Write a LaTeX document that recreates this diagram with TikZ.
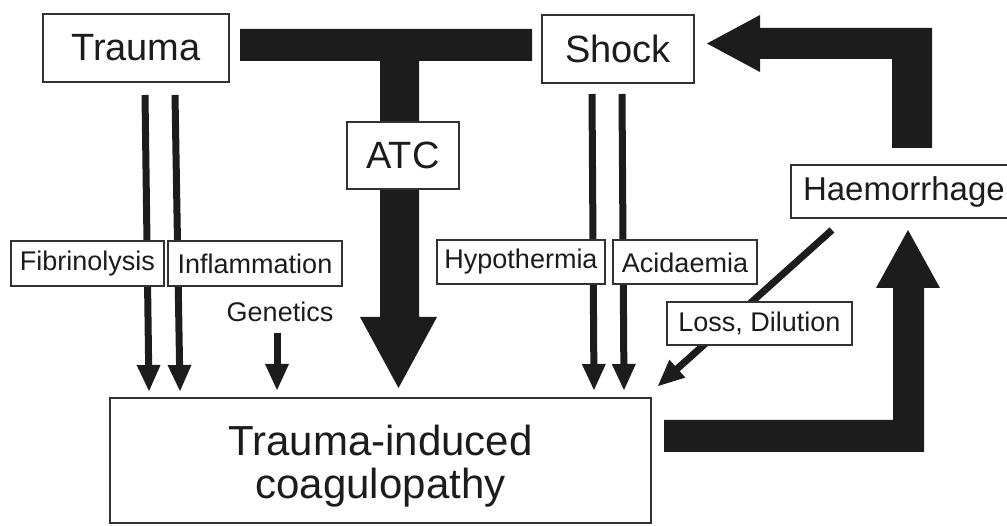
\documentclass[tikz,border=0pt]{standalone}
\usepackage{fontspec}
\setmainfont{Liberation Sans}
\usetikzlibrary{calc}
\definecolor{ink}{RGB}{28,28,28}
\definecolor{boxline}{RGB}{50,50,50}
\pgfdeclarelayer{bg}
\pgfsetlayers{bg,main}
\newcommand{\thinarrow}[2]{%
  \draw[ink, line width=7pt] (#1) -- ($(#2)!24pt!(#1)$);
  \fill[ink] (#2) -- ($(#2)!26pt!(#1)!12pt!90:(#1)$) -- ($(#2)!26pt!(#1)!12pt!-90:(#1)$) -- cycle;
}
\begin{document}
\begin{tikzpicture}[x=1pt,y=-1pt,
  box/.style={draw=boxline, line width=2pt, fill=white, inner sep=0pt, text=ink},
  big/.style={font=\fontsize{38}{40}\selectfont},
  small/.style={font=\fontsize{27}{29}\selectfont},
  block/.style={fill=ink}]
\useasboundingbox (0,0) rectangle (1007,526);

% boxes
\node[box,big,minimum width=186pt,minimum height=68pt] (trauma) at (136,48) {Trauma};
\node[box,big,minimum width=152pt,minimum height=68pt] (shock) at (618,49) {Shock};
\node[box,big,minimum width=112pt,minimum height=67pt] (atc) at (403,155.5) {ATC};
\node[box,small,minimum width=153pt,minimum height=45pt] (fib) at (87.5,263.5) {Fibrinolysis};
\node[box,small,minimum width=174pt,minimum height=45pt] (infl) at (255,263.5) {Inflammation};
\node[box,small,minimum width=168pt,minimum height=44pt] (hypo) at (521,262) {Hypothermia};
\node[box,small,minimum width=144pt,minimum height=44pt] (acid) at (685,262.5) {Acidaemia};
\node[box,small,minimum width=185pt,minimum height=43pt] (loss) at (759.5,323.5) {Loss, Dilution};
\node[box,font=\fontsize{33}{35}\selectfont,minimum height=53pt,anchor=west,inner xsep=12pt] (haem) at (790,191.5) {Haemorrhage};
\node[small,text=ink,inner sep=0pt] (gen) at (280,312) {Genetics};
\node[box,minimum width=541pt,minimum height=125pt,align=center,font=\fontsize{42}{43}\selectfont] (tic) at (380.5,460.5) {\rule{0pt}{41pt}Trauma-induced\\coagulopathy};

% connector end points
\coordinate (ta) at (145,95);   \coordinate (tae) at (149,391);
\coordinate (tb) at (175,95);   \coordinate (tbe) at (180,391);
\coordinate (sa) at (592,94);   \coordinate (sae) at (594,390);
\coordinate (sb) at (622,94);   \coordinate (sbe) at (624,390);
\coordinate (ga) at (277,333);  \coordinate (gae) at (277,390);
\coordinate (ha) at (832,230);  \coordinate (hae) at (658,386);

\begin{pgfonlayer}{bg}
  % Trauma -- Shock bar with ATC stem
  \fill[block] (240,29) -- (532,29) -- (532,61) -- (419,61) -- (419,317) -- (437,317)
     -- (398.5,388) -- (360,317) -- (380,317) -- (380,61) -- (240,61) -- cycle;
  % Haemorrhage -> Shock
  \fill[block] (707,43.5) -- (760,15) -- (760,28) -- (932,28) -- (932,148) -- (892,148)
     -- (892,59) -- (760,59) -- (760,72) -- cycle;
  % TIC -> Haemorrhage
  \fill[block] (664,420) -- (893,420) -- (893,288) -- (876,288) -- (908,230) -- (940,288)
     -- (924,288) -- (924,452) -- (664,452) -- cycle;
  % thin arrows
  \thinarrow{ta}{tae}
  \thinarrow{tb}{tbe}
  \thinarrow{sa}{sae}
  \thinarrow{sb}{sbe}
  \thinarrow{ga}{gae}
  \thinarrow{ha}{hae}
\end{pgfonlayer}
\end{tikzpicture}
\end{document}
